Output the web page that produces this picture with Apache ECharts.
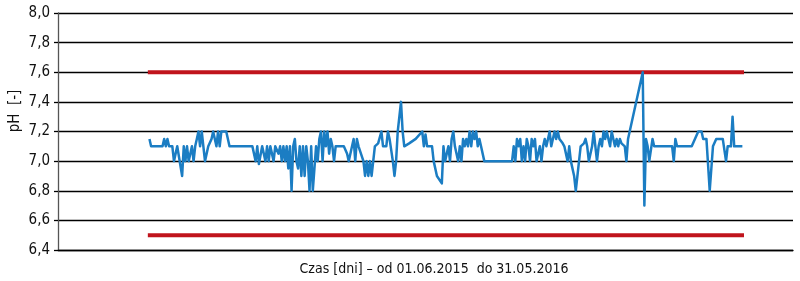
<!DOCTYPE html>
<html>
<head>
<meta charset="utf-8">
<script src="https://cdn.jsdelivr.net/npm/echarts@6/dist/echarts.min.js"></script>
<style>
html,body{margin:0;padding:0;background:#fff;}
#c{width:800px;height:281px;}
</style>
</head>
<body>
<div id="c"></div>
<script>
// Day index (0 = 01.06.2015) and measured pH
var days = [1,2,9,10,11,12,13,15,16,18,19,21,22,23,24,25,27,28,29,30,31,32,33,34,35,37,39,40,42,43,44,45,48,50,
64,66,67,68,70,72,73,74,75,77,78,79,80,81,82,83,84,85,86,87,88,89,90,91,92,93,94,95,96,97,98,99,100,101,102,103,104,105,106,107,108,109,110,111,112,113,114,115,
120,122,123,124,126,127,128,129,130,132,133,134,135,136,137,139,141,143,144,146,147,148,150,151,152,153,155,156,157,160,164,168,169,170,171,174,175,177,180,
181,182,184,185,186,187,188,189,190,191,192,193,194,195,196,197,198,199,200,201,202,203,204,205,206,
223,224,225,226,227,228,229,230,231,232,233,234,235,236,237,238,240,241,242,243,244,245,246,247,248,249,250,251,252,254,255,257,258,259,260,261,262,264,265,267,268,269,270,271,272,273,274,275,276,277,278,279,280,281,282,283,284,285,286,287,288,289,290,292,293,294,
303,304,305,306,307,309,310,321,322,323,324,333,337,339,340,342,344,346,348,352,354,355,357,358,359,364];
var ph = [7.15,7.1,7.1,7.15,7.1,7.15,7.1,7.1,7.0,7.1,7.1,6.9,7.1,7.0,7.1,7.0,7.1,7.0,7.1,7.15,7.2,7.1,7.2,7.1,7.0,7.1,7.15,7.2,7.1,7.2,7.1,7.2,7.2,7.1,
7.1,7.0,7.1,6.98,7.1,7.0,7.1,7.0,7.1,7.0,7.1,7.1,7.05,7.1,7.0,7.1,7.0,7.1,6.95,7.1,6.8,7.1,7.15,7.0,6.95,7.1,6.9,7.1,6.9,7.1,7.0,6.8,7.1,6.8,6.95,7.1,7.0,7.15,7.2,7.0,7.2,7.1,7.2,7.05,7.15,7.1,7.0,7.1,
7.1,7.05,7.0,7.05,7.15,7.0,7.15,7.1,7.1,7.0,6.9,7.0,6.9,7.0,6.9,7.1,7.12,7.2,7.1,7.1,7.2,7.15,7.0,6.9,7.0,7.2,7.4,7.2,7.1,7.12,7.15,7.2,7.1,7.18,7.1,7.1,7.0,6.9,6.85,
7.1,7.0,7.1,7.0,7.15,7.2,7.1,7.05,7.0,7.1,7.0,7.15,7.1,7.15,7.1,7.2,7.1,7.2,7.15,7.2,7.1,7.15,7.1,7.1,7.0,
7.0,7.1,7.0,7.15,7.1,7.15,7.0,7.1,7.0,7.15,7.1,7.0,7.15,7.1,7.15,7.0,7.1,7.0,7.1,7.15,7.1,7.15,7.2,7.1,7.15,7.2,7.15,7.2,7.15,7.12,7.1,7.0,7.1,7.0,7.0,6.9,6.8,7.0,7.1,7.12,7.15,7.1,7.0,7.0,7.1,7.2,7.1,7.0,7.1,7.15,7.1,7.2,7.15,7.2,7.15,7.1,7.2,7.15,7.1,7.15,7.1,7.15,7.12,7.1,7.0,7.15,
7.6,6.7,7.15,7.1,7.0,7.15,7.1,7.1,7.0,7.15,7.1,7.1,7.2,7.2,7.15,7.15,6.8,7.1,7.15,7.15,7.0,7.1,7.1,7.3,7.1,7.1];
var limitDays = [0, 365];
var upperLimit = [7.6, 7.6];
var lowerLimit = [6.5, 6.5];
var yTicks = [6.4, 8.0, 0.2]; // min, max, step

function pairs(xs, ys){ var o=[]; for (var i=0;i<xs.length;i++) o.push([xs[i], ys[i]]); return o; }

var FONT = '"Liberation Sans Narrow","DejaVu Sans Condensed","Roboto",sans-serif';
var chart = echarts.init(document.getElementById('c'), null, {renderer:'canvas'});
chart.setOption({
  animation:false,
  backgroundColor:'#fff',
  grid:{left:58, right:7, top:13, bottom:31, containLabel:false},
  xAxis:{
    type:'value', min:-55, max:395,
    axisLine:{show:true, onZero:false, lineStyle:{color:'#000', width:1.3}},
    axisTick:{show:false}, axisLabel:{show:false}, splitLine:{show:false}
  },
  yAxis:{
    type:'value', min:yTicks[0], max:yTicks[1], interval:yTicks[2],
    axisLine:{show:true, onZero:false, lineStyle:{color:'#555', width:1.3}},
    axisTick:{show:true, length:4, lineStyle:{color:'#000', width:1.3}},
    axisLabel:{color:'#111', fontFamily:FONT, fontSize:15, margin:8,
      formatter:function(v){return v.toFixed(1).replace('.', ',');}},
    splitLine:{show:true, lineStyle:{color:'#000', width:1.3}}
  },
  series:[
    {type:'line', data:pairs(limitDays, upperLimit), symbol:'none', lineStyle:{color:'#c0141c', width:4}, z:3},
    {type:'line', data:pairs(limitDays, lowerLimit), symbol:'none', lineStyle:{color:'#c0141c', width:4}, z:3},
    {type:'line', data:pairs(days, ph), symbol:'none', lineStyle:{color:'#1b7dc3', width:2.5, join:'round'}, z:4}
  ],
  graphic:[
    {type:'text', x:434, y:269, style:{text:'Czas [dni] – od 01.06.2015  do 31.05.2016', fill:'#111', font:'14px '+FONT, textAlign:'center', textVerticalAlign:'middle'}},
    {type:'text', x:15, y:111, rotation:Math.PI/2, style:{text:'pH  [-]', fill:'#111', font:'15px '+FONT, textAlign:'center', textVerticalAlign:'middle'}}
  ]
});
</script>
</body>
</html>
